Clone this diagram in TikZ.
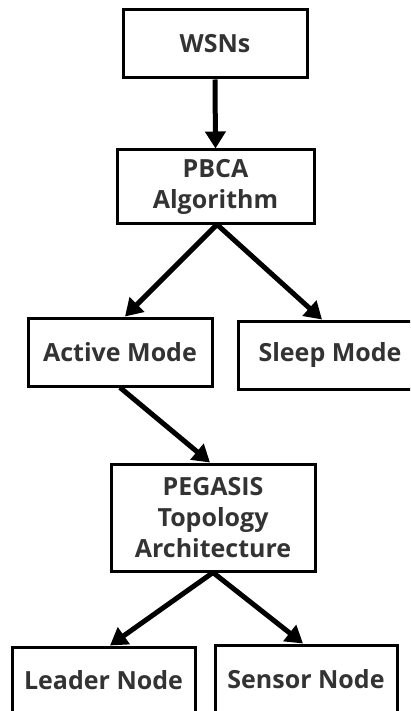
\documentclass[tikz,border=0pt]{standalone}
\usepackage{fontspec}
\setmainfont{Open Sans}
\usetikzlibrary{arrows.meta,calc}
\definecolor{txt}{HTML}{333333}
\begin{document}
\begin{tikzpicture}[x=1pt,y=-1pt,
  box/.style={draw=black,line width=3pt,align=center,
    font=\fontsize{25}{31}\selectfont\bfseries,text=txt,inner sep=0pt},
  arr/.style={line width=5pt,-{Triangle[length=17pt,width=20pt]}}]
\clip (0,0) rectangle (410,711);
\useasboundingbox (0,0) rectangle (410,711);
\node[box,minimum width=184,minimum height=68] (wsn) at (215,44) {WSNs};
\node[box,minimum width=197,minimum height=73] (pbca) at (215.5,186.5) {PBCA\\Algorithm};
\node[box,minimum width=184,minimum height=68] (active) at (120,352) {Active Mode};
\node[box,minimum width=184,minimum height=68] (sleep) at (330,355) {Sleep Mode};
\node[box,minimum width=204,minimum height=107] (peg) at (213,517.5) {PEGASIS\\Topology\\Architecture};
\node[box,minimum width=183,minimum height=66] (leader) at (103.5,680) {Leader Node};
\node[box,minimum width=182,minimum height=68] (sensor) at (306,679) {Sensor Node};
\draw[arr] (wsn.south) -- (pbca.north);
\draw[arr] ([xshift=1.5]pbca.south) -- ([xshift=5]active.north);
\draw[arr] ([xshift=1.5]pbca.south) -- ([xshift=-8]sleep.north);
\draw[arr] (active.south) -- ([xshift=-3]peg.north);
\draw[arr] (peg.south) -- ([xshift=6.5]leader.north);
\draw[arr] (peg.south) -- ([xshift=-3]sensor.north);
\end{tikzpicture}
\end{document}
